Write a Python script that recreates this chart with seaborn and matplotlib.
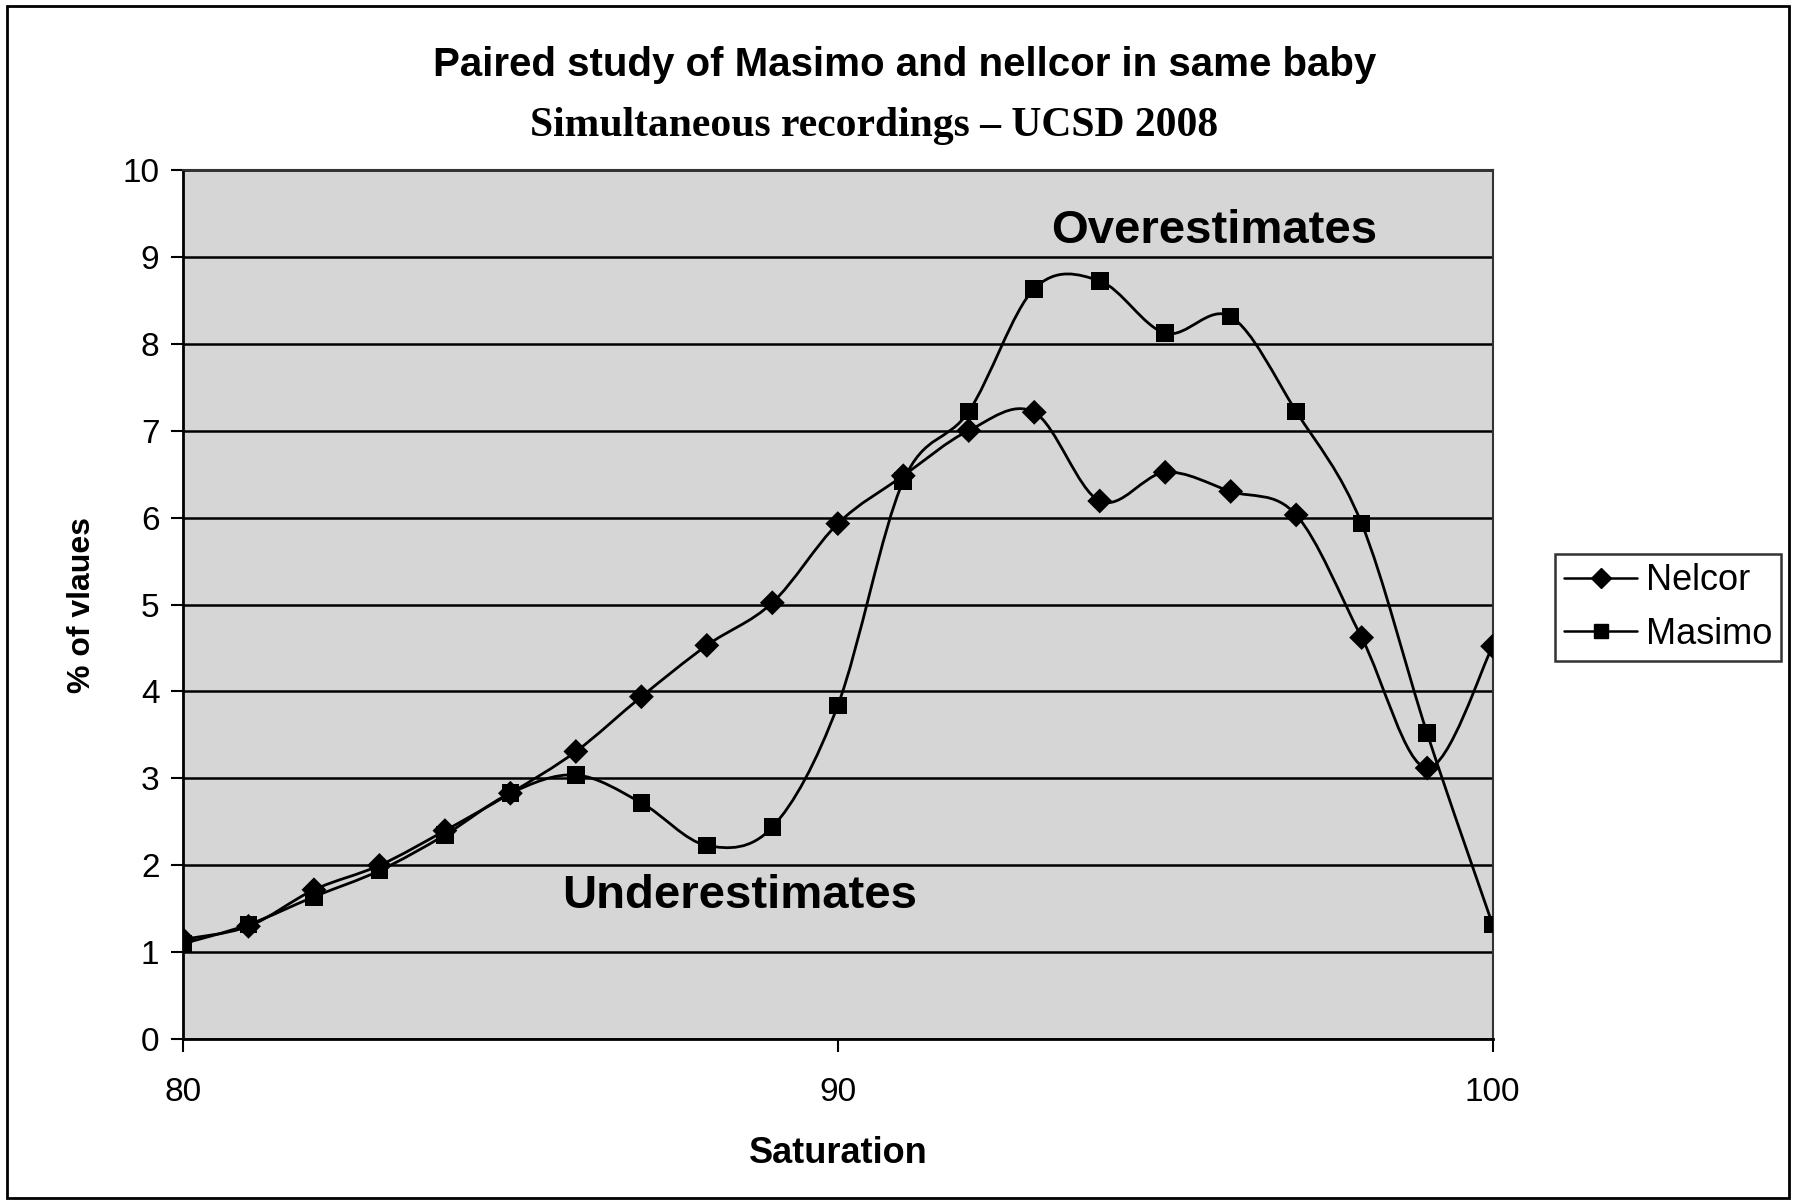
import numpy as np
import pandas as pd
import seaborn as sns
import matplotlib
matplotlib.use("Agg")
import matplotlib.pyplot as plt
from matplotlib.path import Path
from matplotlib.patches import PathPatch, Rectangle
from matplotlib.lines import Line2D

# ---- data ----
saturation = [80, 81, 82, 83, 84, 85, 86, 87, 88, 89, 90,
              91, 92, 93, 94, 95, 96, 97, 98, 99, 100]
nelcor = [1.15, 1.3, 1.72, 2.0, 2.4, 2.83, 3.31, 3.94, 4.53, 5.02, 5.93,
          6.48, 7.0, 7.21, 6.19, 6.52, 6.3, 6.03, 4.62, 3.12, 4.52]
masimo = [1.1, 1.32, 1.64, 1.94, 2.35, 2.83, 3.04, 2.72, 2.23, 2.44, 3.84,
          6.42, 7.22, 8.63, 8.72, 8.12, 8.31, 7.22, 5.93, 3.52, 1.32]
series_names = ["Nelcor", "Masimo"]
x_ticks = [80, 90, 100]
y_ticks = list(range(0, 11))

df = pd.DataFrame({
    "Saturation": saturation * 2,
    "value": nelcor + masimo,
    "series": ["Nelcor"] * len(saturation) + ["Masimo"] * len(saturation),
})

sns.set_theme(style="white")
plt.rcParams["font.family"] = ["Liberation Sans", "DejaVu Sans"]
plt.rcParams["text.color"] = "black"
plt.rcParams["axes.labelcolor"] = "black"
plt.rcParams["xtick.color"] = "black"
plt.rcParams["ytick.color"] = "black"

fig = plt.figure(figsize=(17.94, 12.03), dpi=100)
ax = fig.add_axes([0.102, 0.136, 0.730, 0.723])
ax.set_facecolor("#d6d6d6")


def smooth_path(xs, ys):
    """Excel-like smoothed line: cubic Bezier segments through the data points."""
    pts = np.column_stack([xs, ys]).astype(float)
    n = len(pts)
    verts = [pts[0]]
    codes = [Path.MOVETO]
    for i in range(n - 1):
        p0 = pts[i - 1] if i > 0 else pts[i]
        p1 = pts[i]
        p2 = pts[i + 1]
        p3 = pts[i + 2] if i + 2 < n else pts[i + 1]
        c1 = p1 + (p2 - p0) / 6.0
        c2 = p2 - (p3 - p1) / 6.0
        verts += [c1, c2, p2]
        codes += [Path.CURVE4] * 3
    return Path(verts, codes)


for vals in (nelcor, masimo):
    ax.add_patch(PathPatch(smooth_path(saturation, vals), facecolor="none",
                           edgecolor="black", lw=2.0, zorder=3))

sns.scatterplot(data=df, x="Saturation", y="value", style="series",
                markers={"Nelcor": "D", "Masimo": "s"},
                hue="series", palette={"Nelcor": "black", "Masimo": "black"},
                s=160, edgecolor="black", linewidth=0, legend=False,
                ax=ax, zorder=4)

ax.set_xlim(80, 100)
ax.set_ylim(0, 10)
ax.set_xticks(x_ticks)
ax.set_yticks(y_ticks)
ax.yaxis.grid(True, color="black", lw=1.8)
ax.xaxis.grid(False)
ax.set_axisbelow(True)
ax.tick_params(axis="both", labelsize=24, colors="black", direction="out",
               length=9, width=1.5, left=True, bottom=True, pad=8)
ax.tick_params(axis="x", pad=18)
for side in ["left", "bottom"]:
    ax.spines[side].set_color("black")
    ax.spines[side].set_linewidth(2.0)
for side in ["top", "right"]:
    ax.spines[side].set_color("#333333")
    ax.spines[side].set_linewidth(1.5)

ax.set_xlabel("Saturation", fontsize=26, fontweight="bold", labelpad=20)
ax.set_ylabel("% of vlaues", fontsize=23, fontweight="bold", labelpad=18)

ax.text(95.75, 9.3, "Overestimates", fontsize=34, fontweight="bold",
        ha="center", va="center", zorder=5)
ax.text(88.5, 1.65, "Underestimates", fontsize=34, fontweight="bold",
        ha="center", va="center", zorder=5)

fig.text(0.504, 0.946, "Paired study of Masimo and nellcor in same baby",
         fontsize=29, fontweight="bold", ha="center", va="center")
fig.text(0.487, 0.895, "Simultaneous recordings \u2013 UCSD 2008",
         fontsize=30, fontweight="bold", ha="center", va="center",
         family=["Liberation Serif", "DejaVu Serif"])

handles = [
    Line2D([0], [0], color="black", lw=1.8, marker="D", markersize=10),
    Line2D([0], [0], color="black", lw=1.8, marker="s", markersize=10),
]
leg = fig.legend(handles, series_names, loc="center left",
                 bbox_to_anchor=(0.867, 0.495), fontsize=26, frameon=True,
                 fancybox=False, edgecolor="black", handlelength=2.0,
                 borderpad=0.25, labelspacing=0.5, handletextpad=0.25,
                 borderaxespad=0.0)
leg.get_frame().set_linewidth(1.8)

fig.patches.append(Rectangle((0.004, 0.004), 0.993, 0.991,
                             transform=fig.transFigure, fill=False,
                             edgecolor="black", lw=2.0))

fig.savefig("out.png", dpi=100, facecolor="white")
